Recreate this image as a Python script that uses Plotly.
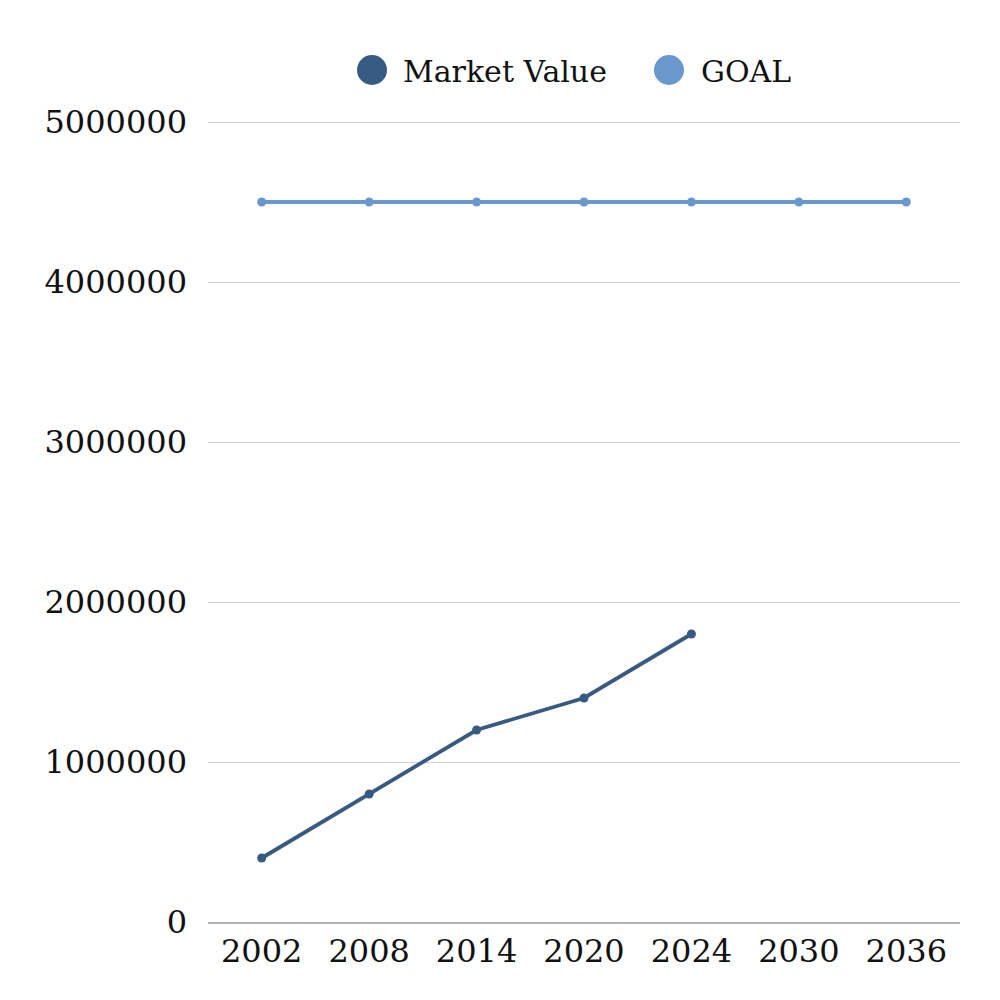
import plotly.graph_objects as go

years = ["2002", "2008", "2014", "2020", "2024", "2030", "2036"]
market_value = [400000, 800000, 1200000, 1400000, 1800000, None, None]
goal = [4500000, 4500000, 4500000, 4500000, 4500000, 4500000, 4500000]
y_ticks = [0, 1000000, 2000000, 3000000, 4000000, 5000000]
series_names = ["Market Value", "GOAL"]

FONT = "DejaVu Serif"
DARK = "#365a82"
LIGHT = "#6a98cc"

fig = go.Figure()
fig.add_trace(go.Scatter(x=years, y=market_value, mode="lines+markers", name=series_names[0],
                         line=dict(color=DARK, width=3.8), marker=dict(color=DARK, size=9),
                         showlegend=False))
fig.add_trace(go.Scatter(x=years, y=goal, mode="lines+markers", name=series_names[1],
                         line=dict(color=LIGHT, width=3.8), marker=dict(color=LIGHT, size=9),
                         showlegend=False))

# Custom legend (large circles) placed relative to the plot area
L, R, T, B = 208, 960, 118, 922
def px(xp):
    return (xp - L) / (R - L)
def py(yp):
    return (B - yp) / (B - T)

legend_items = [(372, 401, DARK, series_names[0]), (669, 699, LIGHT, series_names[1])]
for cx, tx, col, name in legend_items:
    fig.add_shape(type="circle", xref="paper", yref="paper",
                  xsizemode="pixel", ysizemode="pixel",
                  xanchor=px(cx), yanchor=py(70), x0=-15, x1=15, y0=-15, y1=15,
                  fillcolor=col, line=dict(width=0))
    fig.add_annotation(text=name, xref="paper", yref="paper", x=px(tx), y=py(71),
                       xanchor="left", yanchor="middle", showarrow=False,
                       font=dict(family=FONT, size=30, color="#111111"))

fig.update_layout(
    width=1000, height=1000,
    margin=dict(l=L, r=1000 - R, t=T, b=1000 - B),
    paper_bgcolor="white", plot_bgcolor="white",
    font=dict(family=FONT, size=32, color="#111111"),
    showlegend=False,
)
fig.update_xaxes(type="category", categoryorder="array", categoryarray=years,
                 range=[-0.5, 6.5], showgrid=False, showline=True, linecolor="#b3b3b3",
                 linewidth=1.5, ticks="", ticklabelstandoff=0, zeroline=False)
fig.update_yaxes(range=[0, 5025000], tickvals=y_ticks, ticktext=[str(v) for v in y_ticks],
                 showgrid=True, gridcolor="#d3d3d3", gridwidth=1, zeroline=False,
                 showline=False, ticks="", ticklabelstandoff=20)

fig.write_html("out.html")
